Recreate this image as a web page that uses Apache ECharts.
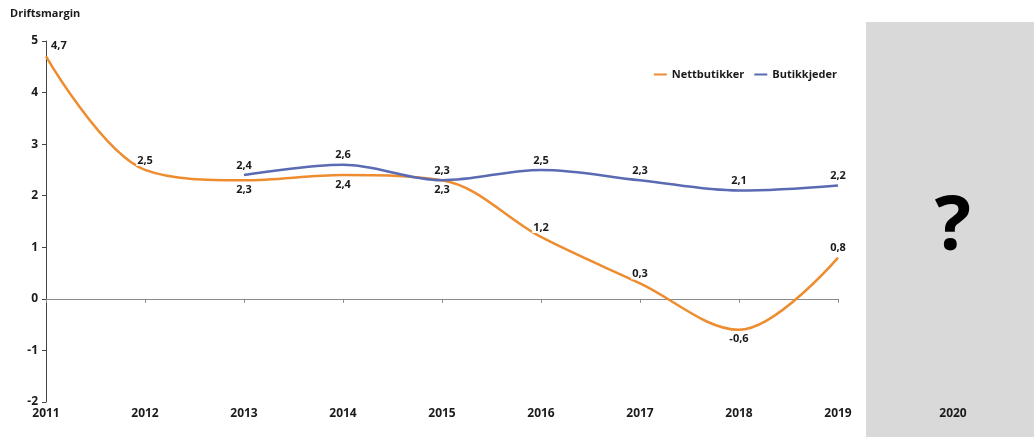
<!DOCTYPE html>
<html>
<head>
<meta charset="utf-8">
<script src="https://cdn.jsdelivr.net/npm/echarts@6/dist/echarts.min.js"></script>
<style>
  html, body { margin: 0; padding: 0; background: #fff; }
  #chart { width: 1034px; height: 437px; }
</style>
</head>
<body>
<div id="chart"></div>
<script>
// Driftsmargin per år
const years = ['2011', '2012', '2013', '2014', '2015', '2016', '2017', '2018', '2019'];
const nettbutikker = [4.7, 2.5, 2.3, 2.4, 2.3, 1.2, 0.3, -0.6, 0.8];
const butikkjeder = [null, null, 2.4, 2.6, 2.3, 2.5, 2.3, 2.1, 2.2];
// label placement per point (above / below the line)
const nettPos = ['right', 'top', 'bottom', 'bottom', 'bottom', 'top', 'top', 'bottom', 'top'];
const yTicks = [-2, -1, 0, 1, 2, 3, 4, 5];
const nextYear = '2020';

const FONT = '"Open Sans", "DejaVu Sans", sans-serif';
const ORANGE = '#EE8C30';
const BLUE = '#5A6AB3';
const TEXT = '#1a1a1a';

const labelBase = {
  show: true,
  fontFamily: FONT,
  fontWeight: 'bold',
  fontSize: 11,
  color: TEXT,
  backgroundColor: '#fff',
  padding: [0, 1],
  distance: 4,
  formatter: p => String(p.value).replace('.', ',')
};

const chart = echarts.init(document.getElementById('chart'), null, { renderer: 'canvas' });

chart.setOption({
  animation: false,
  grid: { left: 46, right: 196, top: 41, bottom: 35, containLabel: false },
  legend: {
    right: 192,
    top: 64,
    itemGap: 10,
    itemWidth: 13,
    itemHeight: 2,
    icon: 'rect',
    textStyle: { fontFamily: FONT, fontWeight: 'bold', fontSize: 11, color: TEXT },
    data: ['Nettbutikker', 'Butikkjeder']
  },
  xAxis: [
    {
      // year labels along the bottom edge
      type: 'category',
      data: years,
      boundaryGap: false,
      axisLine: { show: false, onZero: false },
      axisTick: { show: false },
      axisLabel: {
        fontFamily: FONT, fontWeight: 'bold', fontSize: 12, color: TEXT, margin: 6
      }
    },
    {
      // zero line with small ticks below it
      type: 'category',
      data: years,
      boundaryGap: false,
      position: 'bottom',
      axisLine: { show: true, onZero: true, onZeroAxisIndex: 0, lineStyle: { color: '#8a8a8a', width: 1 } },
      axisTick: { show: true, inside: false, length: 4, lineStyle: { color: '#8a8a8a' } },
      axisLabel: { show: false }
    }
  ],
  yAxis: {
    type: 'value',
    min: yTicks[0],
    max: yTicks[yTicks.length - 1],
    interval: 1,
    splitLine: { show: false },
    axisLine: { show: true, lineStyle: { color: '#444', width: 1 } },
    axisTick: { show: true, length: 4, lineStyle: { color: '#444' } },
    axisLabel: {
      fontFamily: FONT, fontWeight: 'bold', fontSize: 12, color: TEXT, margin: 8
    }
  },
  series: [
    {
      name: 'Nettbutikker',
      type: 'line',
      smooth: 0.35,
      symbol: 'circle',
      symbolSize: 0,
      showSymbol: true,
      xAxisIndex: 0,
      lineStyle: { color: ORANGE, width: 2.5 },
      itemStyle: { color: ORANGE },
      data: nettbutikker.map((v, i) => ({
        value: v,
        label: Object.assign({}, labelBase, {
          position: nettPos[i],
          offset: nettPos[i] === 'right' ? [0, -11] : [0, 0]
        })
      })),
      z: 2
    },
    {
      name: 'Butikkjeder',
      type: 'line',
      smooth: 0.35,
      symbol: 'circle',
      symbolSize: 0,
      showSymbol: true,
      xAxisIndex: 0,
      lineStyle: { color: BLUE, width: 2.5 },
      itemStyle: { color: BLUE },
      label: Object.assign({}, labelBase, { position: 'top' }),
      data: butikkjeder,
      z: 3
    }
  ],
  graphic: [
    {
      type: 'text',
      left: 10,
      top: 8,
      style: { text: 'Driftsmargin', font: 'bold 11px ' + FONT, fill: TEXT }
    },
    {
      type: 'rect',
      shape: { x: 866, y: 22, width: 168, height: 415 },
      style: { fill: '#d9d9d9' },
      z: -10
    },
    {
      type: 'text',
      x: 953,
      y: 228,
      style: {
        text: '?', font: 'bold 76px ' + FONT, fill: '#000',
        align: 'center', verticalAlign: 'middle'
      }
    },
    {
      type: 'text',
      x: 953,
      y: 414,
      style: {
        text: nextYear, font: 'bold 12px ' + FONT, fill: TEXT,
        align: 'center', verticalAlign: 'middle'
      }
    }
  ]
});
</script>
</body>
</html>
